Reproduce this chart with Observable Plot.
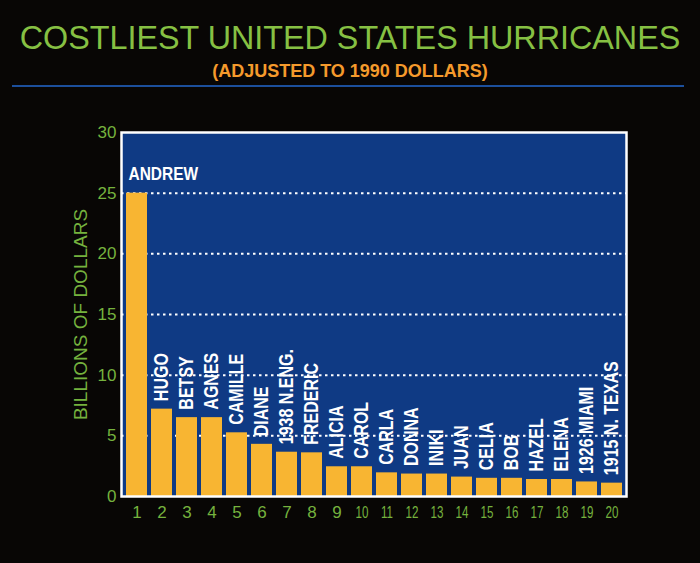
<!DOCTYPE html>
<html>
<head>
<meta charset="utf-8">
<script src="https://cdn.jsdelivr.net/npm/d3@7"></script>
<script src="https://cdn.jsdelivr.net/npm/@observablehq/plot@0.6"></script>
<style>
  html, body { margin: 0; padding: 0; background: #080605; }
  #wrap { width: 700px; height: 563px; position: relative; overflow: hidden; background: #080605; font-family: "Liberation Sans", Arial, sans-serif; }
  #header { position: relative; width: 700px; height: 95px; }
  #title { position: absolute; left: 0; width: 700px; top: 20px; text-align: center; font-size: 34px; line-height: 34px; color: #86c043; transform: scaleX(0.95); white-space: nowrap; }
  #subtitle { position: absolute; left: 0; width: 700px; top: 62px; text-align: center; font-size: 18px; line-height: 18px; font-weight: bold; color: #f59a2c; white-space: nowrap; }
  #rule { position: absolute; left: 12px; width: 672px; top: 85px; height: 2px; background: #1c4f9c; }
  #chart svg { display: block; }
</style>
</head>
<body>
<div id="wrap">
  <div id="header">
    <div id="title">COSTLIEST UNITED STATES HURRICANES</div>
    <div id="subtitle">(ADJUSTED TO 1990 DOLLARS)</div>
    <div id="rule"></div>
  </div>
  <div id="chart"></div>
</div>
<script>
const ranks = [1, 2, 3, 4, 5, 6, 7, 8, 9, 10, 11, 12, 13, 14, 15, 16, 17, 18, 19, 20];
const names = ["ANDREW", "HUGO", "BETSY", "AGNES", "CAMILLE", "DIANE", "1938 N.ENG.", "FREDERIC",
  "ALICIA", "CAROL", "CARLA", "DONNA", "INIKI", "JUAN", "CELIA", "BOB", "HAZEL", "ELENA",
  "1926 MIAMI", "1915 N. TEXAS"];
const billions = [25.0, 7.2, 6.5, 6.5, 5.25, 4.3, 3.65, 3.6, 2.45, 2.45, 1.95, 1.85, 1.85, 1.6, 1.5, 1.5, 1.4, 1.4, 1.2, 1.1];
const yTicks = [0, 5, 10, 15, 20, 25, 30];
const gridValues = [5, 10, 15, 20, 25];
const yLabel = "BILLIONS OF DOLLARS";

const data = ranks.map((r, i) => ({rank: r, name: names[i], value: billions[i]}));
const first = data.slice(0, 1);
const rest = data.slice(1);

const green = "#75b23e";
const blue = "#0f3a84";
const bar = "#f8b532";

const chart = Plot.plot({
  width: 700,
  height: 468,
  marginTop: 37,
  marginBottom: 67,
  marginLeft: 121,
  marginRight: 74,
  style: {background: "transparent", color: green, fontSize: "17px", fontFamily: "Liberation Sans, Arial, sans-serif"},
  x: {type: "band", domain: ranks, paddingInner: 0.165, paddingOuter: 0.12, tickSize: 0, tickPadding: 9, label: null},
  y: {domain: [0, 30], ticks: yTicks, tickSize: 0, tickPadding: 5, label: null},
  marks: [
    Plot.frame({fill: blue, stroke: null}),
    Plot.ruleY(gridValues, {stroke: "white", strokeWidth: 2, strokeDasharray: "2.5,3.5"}),
    Plot.barY(data, {x: "rank", y: "value", fill: bar}),
    Plot.text(first, {x: "rank", y: "value", text: "name", textAnchor: "start", dx: -8.5, dy: -18.5,
      fill: "white", fontSize: 18, fontWeight: "bold"}),
    Plot.text(rest, {x: "rank", y: "value", text: "name", rotate: -90, textAnchor: "start", dy: -8,
      fill: "white", fontSize: 20, fontWeight: "bold"}),
    Plot.text([yLabel], {frameAnchor: "left", rotate: -90, textAnchor: "middle", dx: -41, fill: green, fontSize: 19}),
    Plot.frame({stroke: "white", strokeWidth: 2.5, fill: null})
  ]
});

document.getElementById("chart").appendChild(chart);

function squeeze(node, sx) {
  const len = node.getComputedTextLength();
  if (len > 0) {
    node.setAttribute("textLength", (len * sx).toFixed(1));
    node.setAttribute("lengthAdjust", "spacingAndGlyphs");
  }
}
const nameSet = new Set(names);
d3.select(chart).selectAll("text").each(function() {
  const s = this.textContent;
  if (s === "ANDREW") squeeze(this, 0.86);
  else if (nameSet.has(s)) squeeze(this, 0.8);
  else if (/^\d\d$/.test(s) && this.closest('[aria-label^="x-axis"]')) squeeze(this, 0.68);
});
</script>
</body>
</html>
